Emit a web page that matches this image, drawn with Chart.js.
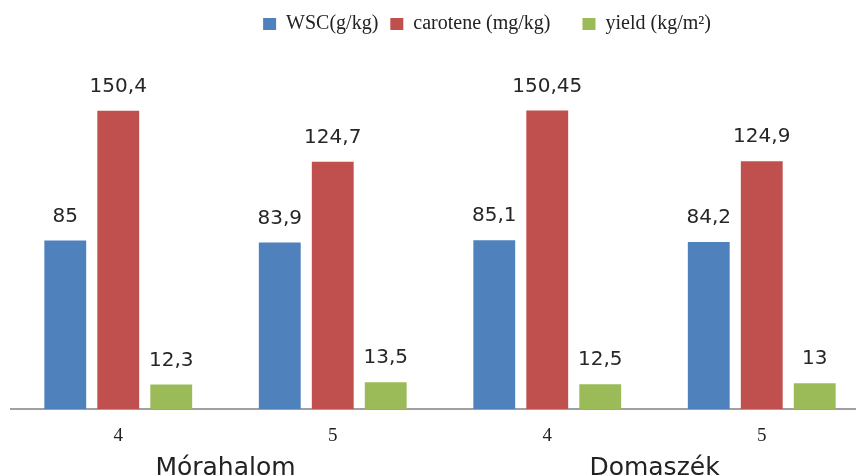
<!DOCTYPE html>
<html>
<head>
<meta charset="utf-8">
<script src="https://cdn.jsdelivr.net/npm/chart.js@4"></script>
<style>
  html, body { margin: 0; padding: 0; background: #fff; overflow: hidden; width: 856px; height: 476px; }
  #wrap { position: absolute; left: 0; top: 0; width: 963px; height: 476px; }
</style>
</head>
<body>
<div id="wrap"><canvas id="c" width="963" height="476"></canvas></div>
<script>
// Harvest years per site and the three measured quantities
const categories = ['4', '5', '4', '5'];
const sites = ['Mórahalom', 'Domaszék'];
const wsc = [85, 83.9, 85.1, 84.2];
const carotene = [150.4, 124.7, 150.45, 124.9];
const yieldKg = [12.3, 13.5, 12.5, 13];
const seriesNames = ['WSC(g/kg)', 'carotene (mg/kg)    ', 'yield (kg/m\u00B2)'];

// Value labels above each bar, comma as decimal separator
const valueLabels = {
  id: 'valueLabels',
  afterDatasetsDraw(chart) {
    const ctx = chart.ctx;
    ctx.save();
    ctx.font = '20px "DejaVu Sans"';
    ctx.fillStyle = '#262626';
    ctx.textAlign = 'center';
    ctx.textBaseline = 'middle';
    chart.data.datasets.forEach((ds, i) => {
      chart.getDatasetMeta(i).data.forEach((bar, j) => {
        ctx.fillText(String(ds.data[j]).replace('.', ','), bar.x, bar.y - 24);
      });
    });
    ctx.restore();
  }
};

// Site names centred under each pair of categories
const siteLabels = {
  id: 'siteLabels',
  afterDraw(chart) {
    const ctx = chart.ctx;
    const x = chart.scales.x;
    ctx.save();
    ctx.font = '25px "DejaVu Sans"';
    ctx.fillStyle = '#222';
    ctx.textAlign = 'center';
    ctx.textBaseline = 'alphabetic';
    sites.forEach((name, g) => {
      const a = x.getPixelForValue(g * 2);
      const b = x.getPixelForValue(g * 2 + 1);
      ctx.fillText(name, (a + b) / 2, 475);
    });
    ctx.restore();
  }
};

new Chart(document.getElementById('c'), {
  type: 'bar',
  data: {
    labels: categories,
    datasets: [
      { label: seriesNames[0], data: wsc, backgroundColor: '#4F81BD' },
      { label: seriesNames[1], data: carotene, backgroundColor: '#C0504D' },
      { label: seriesNames[2], data: yieldKg, backgroundColor: '#9BBB59' }
    ]
  },
  options: {
    responsive: false,
    animation: false,
    layout: { padding: { left: 11, right: 0, top: 2, bottom: 0 } },
    datasets: { bar: { categoryPercentage: 0.741, barPercentage: 0.79 } },
    plugins: {
      legend: {
        position: 'top',
        align: 'center',
        labels: {
          boxWidth: 13,
          boxHeight: 12,
          padding: 12,
          color: '#222',
          font: { family: '"Liberation Serif"', size: 20 }
        }
      },
      tooltip: { enabled: false }
    },
    scales: {
      x: {
        grid: { display: false, drawTicks: false },
        border: { display: true, color: '#a0a0a0', width: 2 },
        ticks: { color: '#222', padding: 16, font: { family: '"Liberation Serif"', size: 19 } },
        afterFit(s) { s.height = 67; }
      },
      y: {
        position: 'right',
        min: 0,
        max: 184,
        grid: { display: false, drawTicks: false },
        border: { display: false },
        ticks: { display: false },
        afterFit(s) { s.width = 94; }
      }
    }
  },
  plugins: [valueLabels, siteLabels]
});
</script>
</body>
</html>
